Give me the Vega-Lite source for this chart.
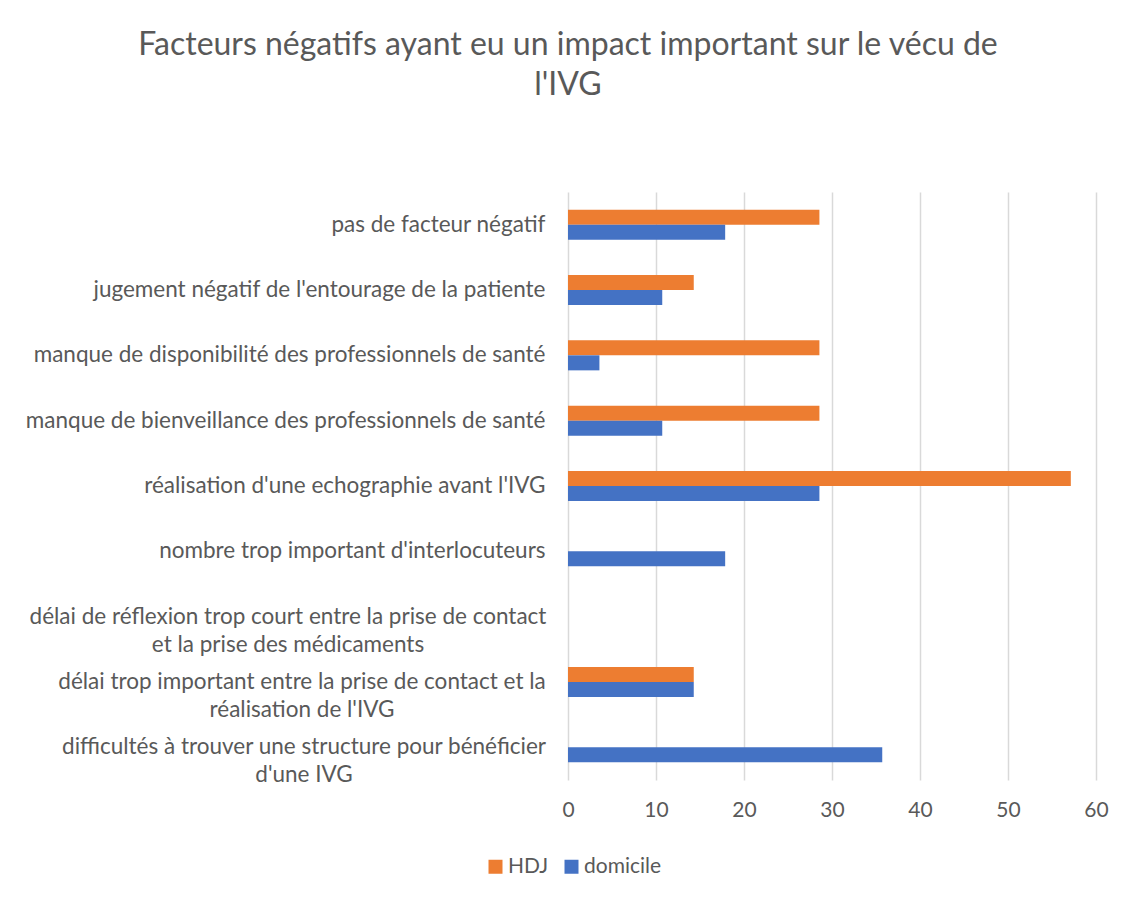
{
  "$schema": "https://vega.github.io/schema/vega-lite/v6.json",
  "autosize": "none",
  "width": 528,
  "height": 588,
  "padding": {"left": 568, "top": 192, "right": 36, "bottom": 117},
  "background": "white",
  "title": {
    "text": ["Facteurs négatifs ayant eu un impact important sur le vécu de", "l'IVG"],
    "anchor": "middle",
    "frame": "group",
    "dx": -264,
    "offset": 90,
    "font": "Lato",
    "fontSize": 32,
    "fontWeight": "normal",
    "color": "#595959",
    "lineHeight": 40
  },
  "data": {
    "values": [
      {"facteur": "pas de facteur négatif", "serie": "HDJ", "valeur": 28.57},
      {"facteur": "pas de facteur négatif", "serie": "domicile", "valeur": 17.86},
      {"facteur": "jugement négatif de l'entourage de la patiente", "serie": "HDJ", "valeur": 14.29},
      {"facteur": "jugement négatif de l'entourage de la patiente", "serie": "domicile", "valeur": 10.71},
      {"facteur": "manque de disponibilité des professionnels de santé", "serie": "HDJ", "valeur": 28.57},
      {"facteur": "manque de disponibilité des professionnels de santé", "serie": "domicile", "valeur": 3.57},
      {"facteur": "manque de bienveillance des professionnels de santé", "serie": "HDJ", "valeur": 28.57},
      {"facteur": "manque de bienveillance des professionnels de santé", "serie": "domicile", "valeur": 10.71},
      {"facteur": "réalisation d'une echographie avant l'IVG", "serie": "HDJ", "valeur": 57.14},
      {"facteur": "réalisation d'une echographie avant l'IVG", "serie": "domicile", "valeur": 28.57},
      {"facteur": "nombre trop important d'interlocuteurs", "serie": "HDJ", "valeur": 0},
      {"facteur": "nombre trop important d'interlocuteurs", "serie": "domicile", "valeur": 17.86},
      {"facteur": "délai de réflexion trop court entre la prise de contact|et la prise des médicaments", "serie": "HDJ", "valeur": 0},
      {"facteur": "délai de réflexion trop court entre la prise de contact|et la prise des médicaments", "serie": "domicile", "valeur": 0},
      {"facteur": "délai trop important entre la prise de contact et la|réalisation de l'IVG", "serie": "HDJ", "valeur": 14.29},
      {"facteur": "délai trop important entre la prise de contact et la|réalisation de l'IVG", "serie": "domicile", "valeur": 14.29},
      {"facteur": "difficultés à trouver une structure pour bénéficier|d'une IVG", "serie": "HDJ", "valeur": 0},
      {"facteur": "difficultés à trouver une structure pour bénéficier|d'une IVG", "serie": "domicile", "valeur": 35.71}
    ]
  },
  "mark": {"type": "bar"},
  "encoding": {
    "y": {
      "field": "facteur",
      "type": "nominal",
      "sort": null,
      "scale": {"paddingInner": 0.54, "paddingOuter": 0.27},
      "axis": {
        "title": null,
        "domain": false,
        "ticks": false,
        "labelFont": "Lato",
        "labelFontSize": 22.5,
        "labelColor": "#595959",
        "labelLineHeight": 28,
        "labelLimit": 700,
        "labelExpr": "split(datum.label, '|')",
        "labelAlign": {
          "condition": {"test": "indexof(datum.value, '|') >= 0", "value": "center"},
          "value": "right"
        },
        "labelPadding": {
          "condition": [
            {"test": "indexof(datum.value, 'médicaments') >= 0", "value": 280.5},
            {"test": "indexof(datum.value, 'réalisation de l') >= 0", "value": 266.5},
            {"test": "indexof(datum.value, 'bénéficier|') >= 0", "value": 264.5}
          ],
          "value": 23
        }
      }
    },
    "yOffset": {
      "field": "serie",
      "type": "nominal",
      "sort": ["HDJ", "domicile"],
      "scale": {"paddingInner": 0, "paddingOuter": 0}
    },
    "x": {
      "field": "valeur",
      "type": "quantitative",
      "scale": {"domain": [0, 60]},
      "axis": {
        "title": null,
        "domain": false,
        "ticks": false,
        "values": [0, 10, 20, 30, 40, 50, 60],
        "grid": true,
        "gridColor": "#D9D9D9",
        "gridWidth": 1.5,
        "labelFlush": false,
        "labelPadding": 19,
        "labelFont": "Lato",
        "labelFontSize": 21,
        "labelColor": "#595959"
      }
    },
    "color": {
      "field": "serie",
      "type": "nominal",
      "sort": ["HDJ", "domicile"],
      "scale": {"domain": ["HDJ", "domicile"], "range": ["#ED7D31", "#4472C4"]},
      "legend": {
        "title": null,
        "orient": "none",
        "direction": "horizontal",
        "legendX": -83,
        "legendY": 664,
        "symbolType": "square",
        "symbolSize": 196,
        "symbolStrokeWidth": 0,
        "symbolOpacity": 1,
        "labelFont": "Lato",
        "labelFontSize": 21,
        "labelColor": "#595959",
        "columnPadding": 12,
        "labelOffset": 2
      }
    }
  },
  "config": {"view": {"stroke": null}}
}
